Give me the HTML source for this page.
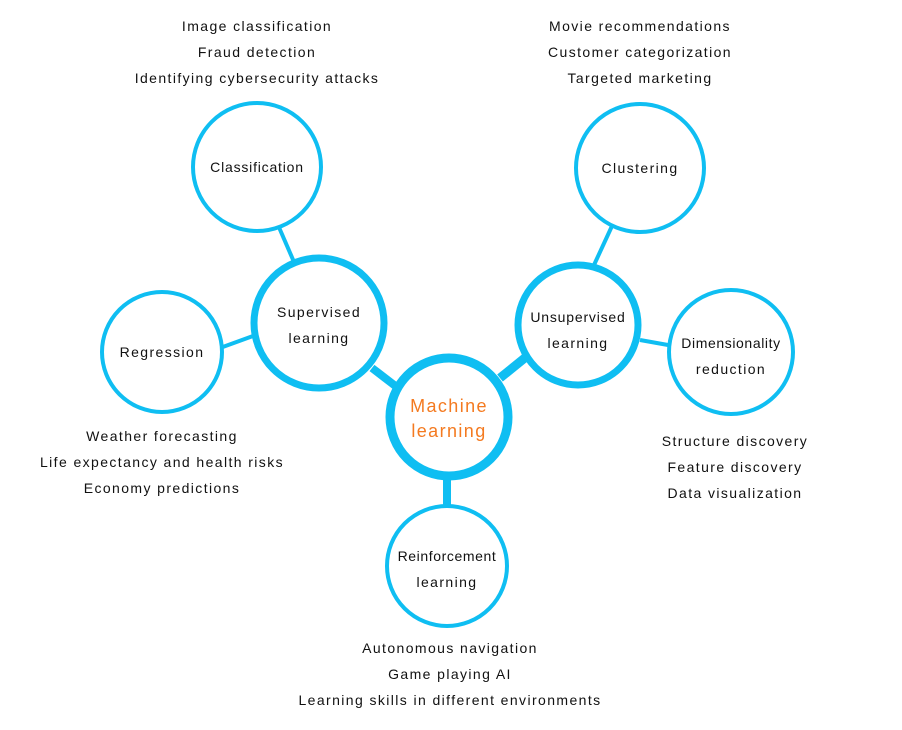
<!DOCTYPE html>
<html><head><style>
body{margin:0;background:#fff;}
svg text{font-family:"Liberation Sans",sans-serif;font-size:14px;fill:#111;text-anchor:middle;letter-spacing:1.4px}
</style></head><body>
<svg width="902" height="725" viewBox="0 0 902 725" xmlns="http://www.w3.org/2000/svg">
<g stroke="#0fbef2" fill="none">
<line x1="278" y1="225" x2="294" y2="262" stroke-width="4"/>
<line x1="220" y1="348" x2="253" y2="336" stroke-width="4"/>
<line x1="372" y1="368" x2="398" y2="388" stroke-width="8"/>
<line x1="500" y1="378" x2="526" y2="357" stroke-width="9"/>
<line x1="612" y1="226" x2="594" y2="265" stroke-width="4"/>
<line x1="640" y1="340" x2="668" y2="345" stroke-width="4"/>
<line x1="447" y1="480" x2="447" y2="506" stroke-width="8"/>
<circle cx="449" cy="417" r="59" stroke-width="9" fill="#fff"/>
<circle cx="319" cy="323" r="65" stroke-width="7" fill="#fff"/>
<circle cx="578" cy="325" r="60" stroke-width="7" fill="#fff"/>
<circle cx="257" cy="167" r="64" stroke-width="4" fill="#fff"/>
<circle cx="640" cy="168" r="64" stroke-width="4" fill="#fff"/>
<circle cx="162" cy="352" r="60" stroke-width="4" fill="#fff"/>
<circle cx="731" cy="352" r="62" stroke-width="4" fill="#fff"/>
<circle cx="447" cy="566" r="60" stroke-width="4" fill="#fff"/>
</g>
<text x="449" y="412" style="fill:#f47a20;font-size:18px">Machine</text>
<text x="449" y="437" style="fill:#f47a20;font-size:18px">learning</text>
<text x="319" y="317">Supervised</text>
<text x="319" y="343">learning</text>
<text x="578" y="322" style="letter-spacing:0.8px">Unsupervised</text>
<text x="578" y="348">learning</text>
<text x="257" y="172" style="letter-spacing:0.8px">Classification</text>
<text x="640" y="173">Clustering</text>
<text x="162" y="357">Regression</text>
<text x="731" y="348" style="letter-spacing:0.6px">Dimensionality</text>
<text x="731" y="374">reduction</text>
<text x="447" y="561" style="letter-spacing:0.6px">Reinforcement</text>
<text x="447" y="587">learning</text>
<text x="257" y="31">Image classification</text>
<text x="257" y="57">Fraud detection</text>
<text x="257" y="83">Identifying cybersecurity attacks</text>
<text x="640" y="31">Movie recommendations</text>
<text x="640" y="57">Customer categorization</text>
<text x="640" y="83">Targeted marketing</text>
<text x="162" y="441">Weather forecasting</text>
<text x="162" y="467">Life expectancy and health risks</text>
<text x="162" y="493">Economy predictions</text>
<text x="735" y="446">Structure discovery</text>
<text x="735" y="472">Feature discovery</text>
<text x="735" y="498">Data visualization</text>
<text x="450" y="653">Autonomous navigation</text>
<text x="450" y="679">Game playing AI</text>
<text x="450" y="705">Learning skills in different environments</text>
</svg>
</body></html>
